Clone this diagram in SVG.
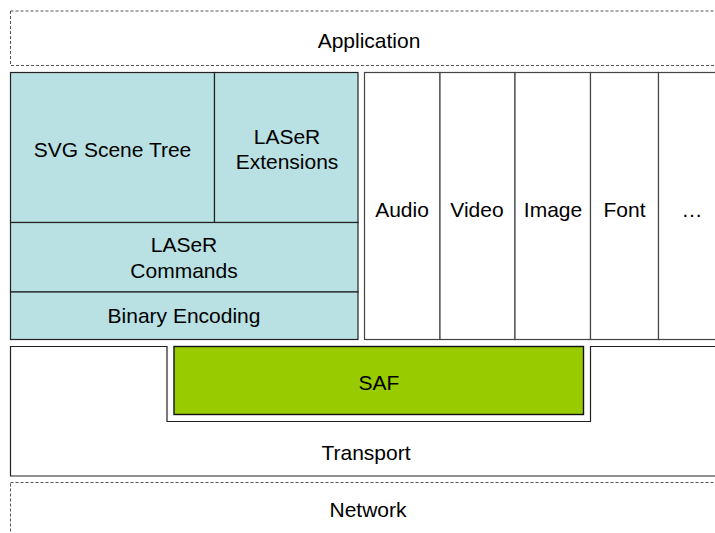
<svg xmlns="http://www.w3.org/2000/svg" width="715" height="533" viewBox="0 0 715 533">
<style>
text{font-family:"Liberation Sans",Arial,sans-serif;font-size:21px;fill:#000;text-anchor:middle}
.dash{fill:#fff;stroke:#555;stroke-width:1;stroke-dasharray:3,2}
.las{fill:#b9e0e3;stroke:#222;stroke-width:1.2}
.med{fill:#fff;stroke:#444;stroke-width:1.2}
.tr{fill:#fff;stroke:#222;stroke-width:1.2}
.saf{fill:#99cc00;stroke:#111;stroke-width:1.4}
</style>
<rect width="715" height="533" fill="#fff"/>
<g id="application"><rect class="dash" x="10.5" y="11" width="712" height="54.5"/><text x="369" y="48">Application</text></g>
<g id="svg-scene-tree"><rect class="las" x="10.5" y="72.5" width="204" height="150"/><text x="112.5" y="157">SVG Scene Tree</text></g>
<g id="laser-extensions"><rect class="las" x="214.5" y="72.5" width="143.5" height="150"/><text x="287" y="144">LASeR</text><text x="287" y="169">Extensions</text></g>
<g id="laser-commands"><rect class="las" x="10.5" y="222.5" width="347.5" height="69.5"/><text x="184" y="252">LASeR</text><text x="184" y="278">Commands</text></g>
<g id="binary-encoding"><rect class="las" x="10.5" y="292" width="347.5" height="47.5"/><text x="184" y="323">Binary Encoding</text></g>
<g id="audio"><rect class="med" x="364.5" y="72.5" width="75.5" height="267"/><text x="402" y="216.5">Audio</text></g>
<g id="video"><rect class="med" x="440" y="72.5" width="75" height="267"/><text x="477" y="216.5">Video</text></g>
<g id="image"><rect class="med" x="515" y="72.5" width="75.5" height="267"/><text x="553" y="216.5">Image</text></g>
<g id="font"><rect class="med" x="590.5" y="72.5" width="68" height="267"/><text x="624.5" y="216.5">Font</text></g>
<g id="more"><rect class="med" x="658.5" y="72.5" width="70" height="267"/><text x="692" y="216.5">…</text></g>
<g id="transport"><path class="tr" d="M10.5 346.5 H167 V421.5 H590.5 V346.5 H725 V476 H10.5 Z"/><text x="366" y="460">Transport</text></g>
<g id="saf"><rect class="saf" x="174" y="346.5" width="409.5" height="68"/><text x="379" y="390">SAF</text></g>
<g id="network"><rect class="dash" x="10.5" y="482.5" width="712" height="60"/><text x="368" y="517">Network</text></g>
<g id="connectors"></g>
</svg>
